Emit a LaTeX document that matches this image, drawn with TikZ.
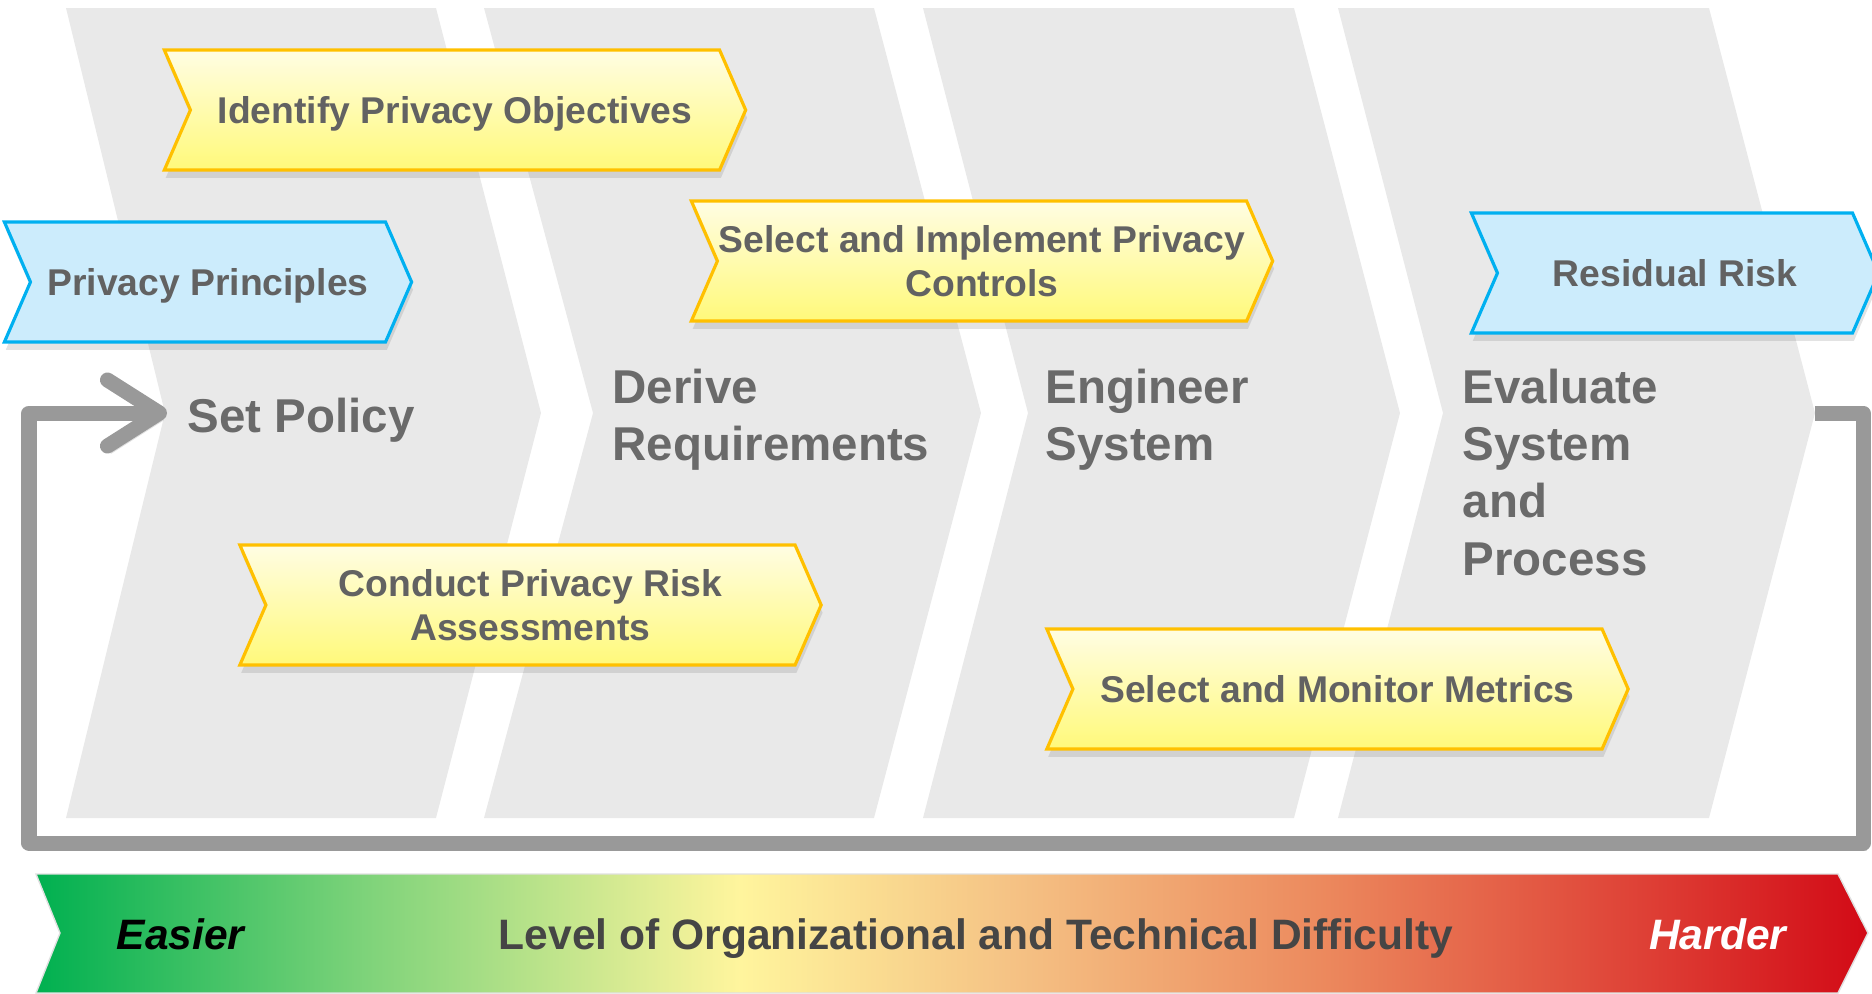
\documentclass[tikz,border=0pt]{standalone}
\usepackage{fontspec}
\setmainfont{Liberation Sans}
\usetikzlibrary{shapes.symbols,shadows,arrows.meta}
\definecolor{stage}{HTML}{E9E9E9}
\definecolor{stagetext}{HTML}{6A6A6A}
\definecolor{boxtext}{HTML}{626262}
\definecolor{difftext}{HTML}{454545}
\definecolor{loopgray}{HTML}{999999}
\definecolor{ylwtop}{HTML}{FFFDE3}
\definecolor{ylwbot}{HTML}{FFF97A}
\definecolor{ylwline}{HTML}{FFC000}
\definecolor{bluefill}{HTML}{CCECFC}
\definecolor{blueline}{HTML}{00B0F0}
\definecolor{barA}{HTML}{00B050}
\definecolor{barB}{HTML}{7ED37A}
\definecolor{barC}{HTML}{FFF59D}
\definecolor{barD}{HTML}{F5C385}
\definecolor{barE}{HTML}{EC8A5E}
\definecolor{barF}{HTML}{DE3F35}
\definecolor{barG}{HTML}{D20A16}
\pgfdeclarehorizontalshading{difficulty}{100bp}{color(0bp)=(barA); color(25bp)=(barA); color(34bp)=(barB); color(44.2bp)=(barC); color(51.5bp)=(barD); color(60bp)=(barE); color(69bp)=(barF); color(75bp)=(barG); color(100bp)=(barG)}
\begin{document}
\begin{tikzpicture}[x=.01cm,y=-.01cm,
	stagelbl/.style={inner sep=0,anchor=north west,align=left,text=stagetext,font=\bfseries\fontsize{13.5}{16.3}\selectfont},
	taskbox/.style={shape=signal,signal from=west,signal to=east,signal pointer angle=133,minimum height=1.2cm,inner sep=0,text depth=0pt,align=center,text=boxtext,font=\bfseries\fontsize{10.6}{12.5}\selectfont,line width=.9pt,drop shadow={opacity=.22,shadow xshift=.4pt,shadow yshift=-2.2pt}},
	yellowbox/.style={taskbox,draw=ylwline,top color=ylwtop,bottom color=ylwbot,minimum width=5.81cm},
	bluebox/.style={taskbox,draw=blueline,fill=bluefill,minimum width=4.07cm},
	barlbl/.style={inner sep=0,anchor=base,font=\bfseries\fontsize{12.1}{14}\selectfont},
	feedback/.style={draw=loopgray,line width=.15cm,line join=round,-{Straight Barb[length=.52cm,width=.66cm,round]},
		preaction={draw=black!40,opacity=.3,transform canvas={shift={(1pt,-2pt)}}}}]
	\useasboundingbox (0,0) rectangle (1872,993);
	% stages
	\foreach \l/\r/\t/\n in {66/436/541/165,484/874/981/593,923/1294/1400/1028,1338/1709/1815/1443}
		\fill[stage] (\l,8) -- (\r,8) -- (\t,413) -- (\r,818) -- (\l,818) -- (\n,413) -- cycle;
	
	\node[stagelbl] (sp) at (187,397) {Set Policy};
	\node[stagelbl] (dr) at (612,368) {Derive\\Requirements};
	\node[stagelbl] (es) at (1045,368) {Engineer\\System};
	\node[stagelbl] (esp) at (1462,368) {Evaluate\\System\\and\\Process};
	
	% feedback loop
	\coordinate (evtip) at (1815,413); \coordinate (fbend) at (167,413);
	\draw[feedback] (evtip) -- (1863,413) |- (29,843) |- (fbend);
	
	% tasks
	\node[yellowbox] (ipo) at (455,110) {Identify Privacy Objectives};
	\node[bluebox] (pp) at (208,282) {Privacy Principles};
	\node[yellowbox] (sic) at (982,261) {Select and Implement Privacy\\Controls};
	\node[bluebox] (rr) at (1675,273) {Residual Risk};
	\node[yellowbox] (cpra) at (530.5,605) {Conduct Privacy Risk\\Assessments};
	\node[yellowbox] (smm) at (1337.5,689) {Select and Monitor Metrics};
	
	% difficulty bar
	\shade[shading=difficulty,draw=black!12] (36,874) -- (1838,874) -- (1868,933) -- (1838,993) -- (36,993) -- (60,933) -- cycle;
	\node[barlbl,anchor=base west] (easy) at (116,949) {\itshape Easier};
	\node[barlbl,text=difftext] (lvl) at (976,949) {Level of Organizational and Technical Difficulty};
	\node[barlbl,anchor=base east,text=white] (hard) at (1787,949) {\itshape Harder};
\end{tikzpicture}
\end{document}
